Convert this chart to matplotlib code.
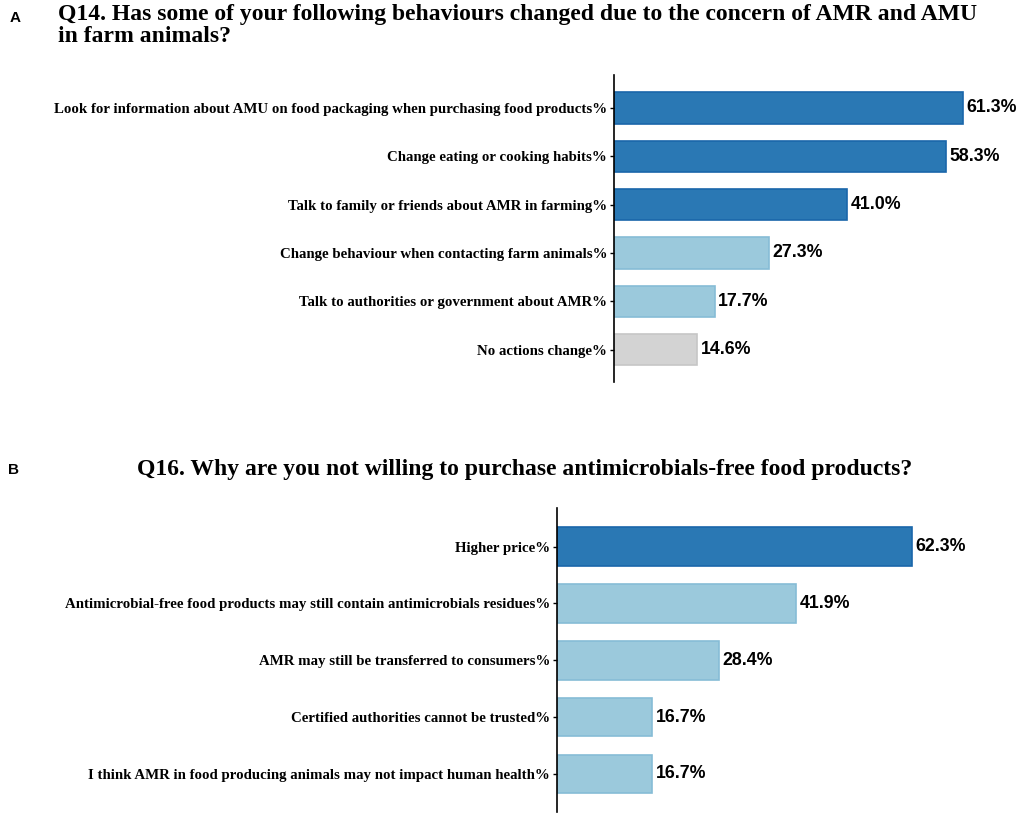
import matplotlib
matplotlib.use("Agg")
import matplotlib.pyplot as plt

# panel A data
labels_a = ["Look for information about AMU on food packaging when purchasing food products%",
            "Change eating or cooking habits%",
            "Talk to family or friends about AMR in farming%",
            "Change behaviour when contacting farm animals%",
            "Talk to authorities or government about AMR%",
            "No actions change%"]
values_a = [61.3, 58.3, 41.0, 27.3, 17.7, 14.6]
groups_a = ["high", "high", "high", "low", "low", "none"]

# panel B data
labels_b = ["Higher price%",
            "Antimicrobial-free food products may still contain antimicrobials residues%",
            "AMR may still be transferred to consumers%",
            "Certified authorities cannot be trusted%",
            "I think AMR in food producing animals may not impact human health%"]
values_b = [62.3, 41.9, 28.4, 16.7, 16.7]
groups_b = ["high", "low", "low", "low", "low"]

fill = {"high": "#2a78b4", "low": "#9bc9dc", "none": "#d3d3d3"}
edge = {"high": "#1a66aa", "low": "#86bcd6", "none": "#c6c6c6"}

serif = "Liberation Serif"
sans = "Liberation Sans"


def draw(ax, labels, values, groups, height):
    pos = list(range(len(labels)))
    ax.barh(pos, values, height=height,
            color=[fill[g] for g in groups],
            edgecolor=[edge[g] for g in groups], linewidth=1.2)
    for p, v in zip(pos, values):
        ax.text(v + 0.6, p, "%.1f%%" % v, va="center", ha="left",
                fontsize=12.8, fontweight="bold", family=sans)
    ax.set_yticks(pos)
    ax.set_yticklabels(labels, fontsize=10.7, fontweight="bold", family=serif)
    ax.set_ylim(len(labels) - 1 + 0.67, -0.68)
    ax.set_xlim(0, 68)
    ax.set_xticks([])
    for s in ["top", "right", "bottom"]:
        ax.spines[s].set_visible(False)
    ax.spines["left"].set_linewidth(1.2)
    ax.tick_params(axis="y", length=3, width=1, pad=2)


fig = plt.figure(figsize=(10.21, 8.16), dpi=100)

ax1 = fig.add_axes([614 / 1021, 1 - 382 / 816, 68 * 5.693 / 1021, 307 / 816])
draw(ax1, labels_a, values_a, groups_a, 0.65)

ax2 = fig.add_axes([557 / 1021, 1 - 812 / 816, 68 * 5.70 / 1021, 304 / 816])
draw(ax2, labels_b, values_b, groups_b, 0.68)

fig.text(10 / 1021, 1 - 18 / 816, "A", fontsize=11, fontweight="bold", family=sans, va="center")
fig.text(58 / 1021, 1 - 20 / 816,
         "Q14. Has some of your following behaviours changed due to the concern of AMR and AMU",
         fontsize=17, fontweight="bold", family=serif, va="baseline")
fig.text(58 / 1021, 1 - 42 / 816, "in farm animals?",
         fontsize=17, fontweight="bold", family=serif, va="baseline")

fig.text(8 / 1021, 1 - 470 / 816, "B", fontsize=11, fontweight="bold", family=sans, va="center")
fig.text(137 / 1021, 1 - 475 / 816,
         "Q16. Why are you not willing to purchase antimicrobials-free food products?",
         fontsize=17, fontweight="bold", family=serif, va="baseline", ha="left")

fig.savefig("out.png", dpi=100)
